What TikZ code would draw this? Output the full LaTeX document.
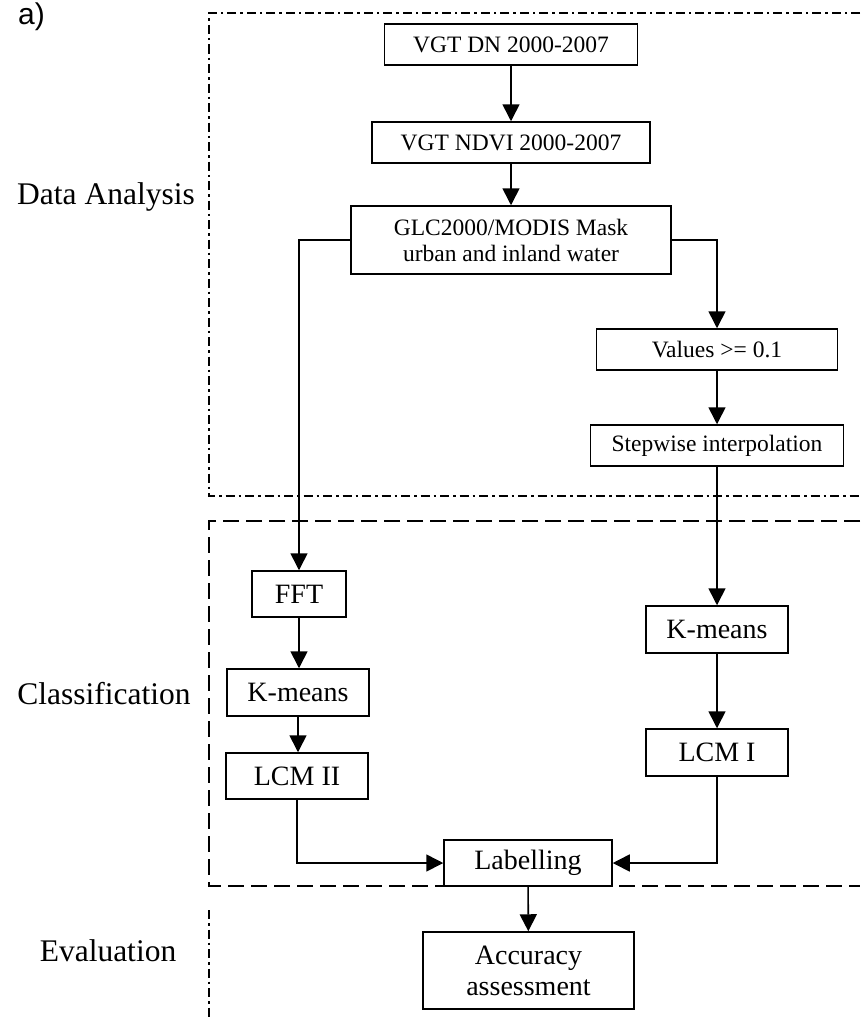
\documentclass[tikz,border=0pt]{standalone}
\usepackage{fontspec}
\setmainfont{Liberation Serif}
\newfontfamily\panelfont{Liberation Sans}
\usetikzlibrary{arrows.meta}

\begin{document}
\begin{tikzpicture}[x=1pt,y=-1pt,
  stage/.style={draw, line width=1.5pt, inner sep=0pt, align=center},
  upper/.style={stage, font=\fontsize{23.5}{26}\selectfont},
  lower/.style={stage, font=\fontsize{28}{31}\selectfont},
  flow/.style={line width=1.6pt, -{Triangle[length=17pt,width=17pt]}},
  phase/.style={anchor=base, font=\fontsize{31.5}{34}\selectfont},
  dashdotframe/.style={line width=1.5pt, dash pattern=on 9pt off 4pt on 2.5pt off 4pt},
  dashframe/.style={line width=1.5pt, dash pattern=on 16pt off 7pt}]

% page and background
\fill[white] (0,0) rectangle (860,1017);
\useasboundingbox (0,0) rectangle (860,1017);

% panel letter
\node[font=\panelfont\fontsize{30}{32}\selectfont, anchor=base west, inner sep=0pt] (panel) at (18,24) {a)};

% phase frames
\draw[dashdotframe] (860,13) -- (209,13) -- (209,496) -- (860,496);
\draw[dashframe] (860,521) -- (209,521) -- (209,886) -- (860,886);
\draw[dashdotframe] (209,910) -- (209,1017);

% phase labels
\node[phase] (da) at (106,204) {Data Analysis};
\node[phase] (cl) at (104,704) {Classification};
\node[phase] (ev) at (108,961) {Evaluation};

% data analysis steps
\node[upper, minimum width=253pt, minimum height=41pt] (dn) at (511,44.5) {VGT DN 2000-2007};
\node[upper, minimum width=278pt, minimum height=41pt] (ndvi) at (511,142.5) {VGT NDVI 2000-2007};
\node[upper, minimum width=320pt, minimum height=68pt] (glc) at (511,240) {GLC2000/MODIS Mask\\urban and inland water};
\node[upper, minimum width=241pt, minimum height=41pt] (val) at (717,349.5) {Values >= 0.1};
\node[upper, minimum width=253pt, minimum height=41pt] (step) at (717,445.5) {Stepwise interpolation};

% classification steps
\node[lower, minimum width=94pt, minimum height=46pt] (fft) at (299,594) {FFT};
\node[lower, minimum width=142pt, minimum height=47pt] (kml) at (298,692.5) {K-means};
\node[lower, minimum width=142pt, minimum height=46pt] (lcm2) at (297,776) {LCM II};
\node[lower, minimum width=142pt, minimum height=47pt] (kmr) at (717,629.5) {K-means};
\node[lower, minimum width=142pt, minimum height=47pt] (lcm1) at (717,752.5) {LCM I};
\node[lower, minimum width=168pt, minimum height=46pt] (lab) at (528,863) {Labelling};

% evaluation step
\node[lower, minimum width=211pt, minimum height=77pt] (acc) at (528.5,970.5) {Accuracy\\assessment};

% connectors
\draw[flow] (dn) -- (ndvi);
\draw[flow] (ndvi) -- (glc);
\draw[flow] (glc.west) -| (fft.north);
\draw[flow] (glc.east) -| (val.north);
\draw[flow] (val) -- (step);
\draw[flow] (step) -- (kmr);
\draw[flow] (fft.south) -- (fft.south |- kml.north);
\draw[flow] (kml.south) -- (kml.south |- lcm2.north);
\draw[flow] (kmr) -- (lcm1);
\draw[flow] (lcm2.south) |- (lab.west);
\draw[flow] (lcm1.south) |- (lab.east);
\draw[flow] (lab) -- (acc);
\end{tikzpicture}
\end{document}
